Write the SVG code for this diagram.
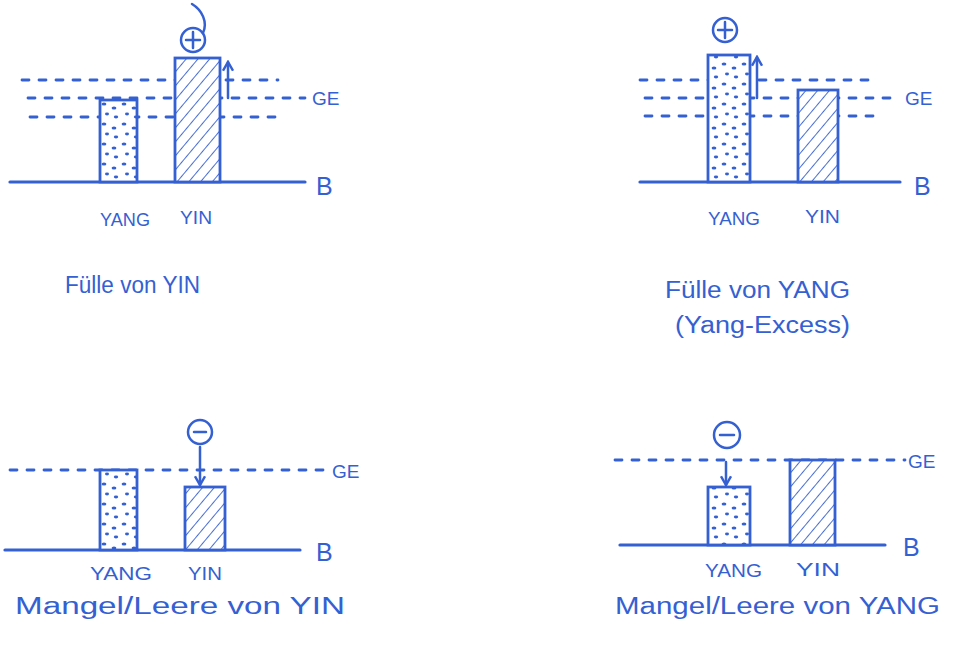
<svg xmlns="http://www.w3.org/2000/svg" width="955" height="648" viewBox="0 0 955 648">
<defs>
<style>
.ink{stroke:#3560d2;fill:none;stroke-width:2.5;stroke-linecap:round}
.base{stroke:#3560d2;fill:none;stroke-width:3.2;stroke-linecap:round}
.dash{stroke:#3560d2;fill:none;stroke-width:2.8;stroke-dasharray:7 10;stroke-linecap:round}
.bar{stroke:#3560d2;stroke-width:2.8}
.yang{fill:url(#dots)}
.yin{fill:url(#hatch)}
.t{fill:#3560d2;font-family:"Liberation Sans",Arial,sans-serif;font-size:23px}
.lbl{fill:#3560d2;font-family:"Liberation Sans",Arial,sans-serif;font-size:18px}
.ge{fill:#3560d2;font-family:"Liberation Sans",Arial,sans-serif;font-size:19px}
.big{fill:#3560d2;font-family:"Liberation Sans",Arial,sans-serif;font-size:25px}
</style>
<pattern id="hatch" width="9" height="9" patternUnits="userSpaceOnUse" patternTransform="rotate(40)">
<rect width="9" height="9" fill="#fff"/>
<line x1="0" y1="0" x2="0" y2="9" stroke="#3560d2" stroke-width="1.8"/>
</pattern>
<pattern id="dots" width="20" height="20" patternUnits="userSpaceOnUse">
<rect width="20" height="20" fill="#fff"/>
<ellipse cx="4" cy="4" rx="2.4" ry="1.5" fill="#3560d2"/>
<ellipse cx="14" cy="8" rx="2.4" ry="1.5" fill="#3560d2"/>
<ellipse cx="7" cy="14" rx="2" ry="1.4" fill="#3560d2"/>
<ellipse cx="16" cy="17" rx="2.2" ry="1.4" fill="#3560d2"/>
</pattern>
<marker id="ah" viewBox="0 0 10 10" refX="8" refY="5" markerWidth="5" markerHeight="5" orient="auto-start-reverse">
<path d="M1,1 L8,5 L1,9" fill="none" stroke="#3560d2" stroke-width="2"/>
</marker>
</defs>
<rect width="955" height="648" fill="#fff"/>

<!-- Panel 1: Fülle von YIN -->
<g id="panel1">
<g id="p1-lines">
<line class="dash" x1="22" y1="80" x2="278" y2="80"/>
<line class="dash" x1="28" y1="98" x2="305" y2="98"/>
<line class="dash" x1="30" y1="117" x2="280" y2="117"/>
<line class="base" x1="10" y1="182" x2="305" y2="182"/>
<text class="ge" x="312" y="105">GE</text>
<text class="big" x="316" y="195">B</text>
</g>
<g id="p1-yang"><rect class="bar yang" x="100" y="100" width="37" height="82"/><text class="lbl" x="100" y="226" textLength="50" lengthAdjust="spacingAndGlyphs">YANG</text></g>
<g id="p1-yin"><rect class="bar yin" x="175" y="58" width="45" height="124"/><text class="lbl" x="180" y="224" textLength="32" lengthAdjust="spacingAndGlyphs">YIN</text></g>
<g id="p1-sign"><circle class="ink" cx="193" cy="40" r="12"/><line class="ink" x1="193" y1="32" x2="193" y2="48"/><line class="ink" x1="186" y1="40" x2="200" y2="40"/><path class="ink" d="M203,33 C208,22 202,10 192,4"/></g>
<text class="t" x="65" y="293" textLength="135" lengthAdjust="spacingAndGlyphs">Fülle von YIN</text>
</g>

<!-- Panel 2: Fülle von YANG -->
<g id="panel2">
<g id="p2-lines">
<line class="dash" x1="640" y1="80" x2="870" y2="80"/>
<line class="dash" x1="645" y1="98" x2="900" y2="98"/>
<line class="dash" x1="645" y1="116" x2="880" y2="116"/>
<line class="base" x1="640" y1="182" x2="900" y2="182"/>
<text class="ge" x="905" y="105">GE</text>
<text class="big" x="914" y="195">B</text>
</g>
<g id="p2-yang"><rect class="bar yang" x="708" y="55" width="42" height="127"/><text class="lbl" x="708" y="225" textLength="52" lengthAdjust="spacingAndGlyphs">YANG</text></g>
<g id="p2-yin"><rect class="bar yin" x="798" y="90" width="40" height="92"/><text class="lbl" x="805" y="223" textLength="35" lengthAdjust="spacingAndGlyphs">YIN</text></g>
<g id="p2-sign"><circle class="ink" cx="725" cy="30" r="12"/><line class="ink" x1="725" y1="22" x2="725" y2="38"/><line class="ink" x1="718" y1="30" x2="732" y2="30"/></g>
<text class="t" x="665" y="298" textLength="185" lengthAdjust="spacingAndGlyphs">Fülle von YANG</text>
<text class="t" x="675" y="333" textLength="175" lengthAdjust="spacingAndGlyphs">(Yang-Excess)</text>
</g>

<!-- Panel 3: Mangel/Leere von YIN -->
<g id="panel3">
<g id="p3-lines">
<line class="dash" x1="10" y1="470" x2="328" y2="470"/>
<line class="base" x1="5" y1="550" x2="300" y2="550"/>
<text class="ge" x="332" y="478">GE</text>
<text class="big" x="316" y="561">B</text>
</g>
<g id="p3-yang"><rect class="bar yang" x="100" y="470" width="37" height="80"/><text class="lbl" x="90" y="580" textLength="62" lengthAdjust="spacingAndGlyphs">YANG</text></g>
<g id="p3-yin"><rect class="bar yin" x="185" y="487" width="40" height="63"/><text class="lbl" x="188" y="580" textLength="34" lengthAdjust="spacingAndGlyphs">YIN</text></g>
<g id="p3-sign"><circle class="ink" cx="200" cy="432" r="12"/><line class="ink" x1="194" y1="432" x2="206" y2="432"/></g>
<text class="t" x="15" y="614" textLength="330" lengthAdjust="spacingAndGlyphs">Mangel/Leere von YIN</text>
</g>

<!-- Panel 4: Mangel/Leere von YANG -->
<g id="panel4">
<g id="p4-lines">
<line class="dash" x1="615" y1="460" x2="905" y2="460"/>
<line class="base" x1="620" y1="545" x2="885" y2="545"/>
<text class="ge" x="908" y="468">GE</text>
<text class="big" x="903" y="556">B</text>
</g>
<g id="p4-yang"><rect class="bar yang" x="708" y="487" width="42" height="58"/><text class="lbl" x="705" y="577" textLength="57" lengthAdjust="spacingAndGlyphs">YANG</text></g>
<g id="p4-yin"><rect class="bar yin" x="790" y="460" width="45" height="85"/><text class="lbl" x="796" y="576" textLength="44" lengthAdjust="spacingAndGlyphs">YIN</text></g>
<g id="p4-sign"><circle class="ink" cx="727" cy="435" r="13"/><line class="ink" x1="720" y1="435" x2="734" y2="435"/></g>
<text class="t" x="615" y="614" textLength="325" lengthAdjust="spacingAndGlyphs">Mangel/Leere von YANG</text>
</g>

<g id="connectors">
<line class="ink" x1="228" y1="98" x2="228" y2="62" marker-end="url(#ah)"/>
<line class="ink" x1="757" y1="98" x2="757" y2="57" marker-end="url(#ah)"/>
<line class="ink" x1="200" y1="447" x2="200" y2="485" marker-end="url(#ah)"/>
<line class="ink" x1="726" y1="462" x2="726" y2="485" marker-end="url(#ah)"/>
</g>
</svg>
